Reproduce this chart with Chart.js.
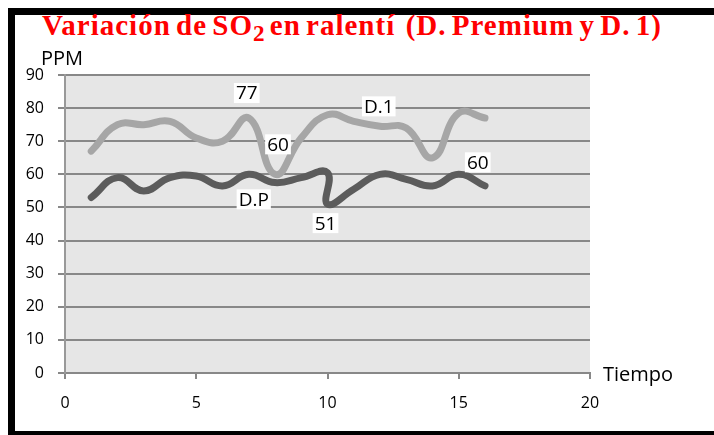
<!DOCTYPE html>
<html>
<head>
<meta charset="utf-8">
<script src="https://cdn.jsdelivr.net/npm/chart.js@4.4.1/dist/chart.umd.min.js"></script>
<style>
  html, body { margin: 0; padding: 0; background: #fff; }
  #wrap { position: relative; width: 714px; height: 435px; overflow: hidden; }
  #frame { position: absolute; left: 8px; top: 8px; width: 760px; height: 416px; border: 7px solid #000; }
  #title {
    position: absolute; left: 42px; top: 11px; white-space: nowrap;
    font-family: "Liberation Serif", serif; font-weight: bold; font-size: 29px;
    line-height: 29px; color: #ff0000; letter-spacing: 1px; word-spacing: -3px;
  }
  #title sub { font-size: 0.8em; vertical-align: -0.25em; line-height: 0; letter-spacing: 0; }
  #chart { position: absolute; left: 0; top: 0; }
</style>
</head>
<body>
<div id="wrap">
  <div id="frame"></div>
  <div id="title">Variación de SO<sub>2</sub> en ralentí&nbsp; (D. Premium y D. 1)</div>
  <canvas id="chart" width="714" height="435"></canvas>
</div>
<script>
// Series D.1
var timeD1 = [1, 2, 3, 4, 5, 6, 7, 8, 9, 10, 11, 12, 13, 14, 15, 16];
var ppmD1 = [67, 75, 75, 76, 71, 70, 77, 60, 71, 78, 76, 74.5, 74, 65, 78.5, 77];

// Series D.P (two readings at t = 10)
var timeDP = [1, 2, 3, 4, 5, 6, 7, 8, 9, 10, 10, 11, 12, 13, 14, 15, 16];
var ppmDP = [53, 59, 55, 59, 59.5, 56.5, 60, 57.5, 59, 60.5, 51, 55.5, 60, 58.5, 56.5, 60, 56.5];

var xTicks = [0, 5, 10, 15, 20];
var yTicks = [0, 10, 20, 30, 40, 50, 60, 70, 80, 90];

var seriesNames = ['D.1', 'D.P'];

// boxed labels: dataset, point index, text (null = the point value), offset
var boxLabels = [
    {ds: 0, i: 6, text: null, dx: -2, dy: -25},
    {ds: 0, i: 7, text: null, dx: 3, dy: -30},
    {ds: 0, i: 10, text: seriesNames[0], dx: 25, dy: -15},
    {ds: 1, i: 6, text: seriesNames[1], dx: 5, dy: 25},
    {ds: 1, i: 10, text: null, dx: -2, dy: 19},
    {ds: 1, i: 15, text: null, dx: 19, dy: -12}
];

function toPoints(xs, ys) {
    return xs.map(function (x, k) { return {x: x, y: ys[k]}; });
}

var labelFont = '19px "Open Sans"';

var plotBackground = {
    id: 'plotBackground',
    beforeDraw: function (chart) {
        var a = chart.chartArea, ctx = chart.ctx;
        ctx.save();
        ctx.fillStyle = '#e6e6e6';
        ctx.fillRect(a.left, a.top, a.right - a.left, a.bottom - a.top);
        ctx.restore();
    }
};

var boxedText = {
    id: 'boxedText',
    afterDatasetsDraw: function (chart) {
        var ctx = chart.ctx;
        ctx.save();
        ctx.font = labelFont;
        ctx.textAlign = 'center';
        ctx.textBaseline = 'middle';
        boxLabels.forEach(function (l) {
            var pt = chart.getDatasetMeta(l.ds).data[l.i];
            var raw = chart.data.datasets[l.ds].data[l.i].y;
            var txt = l.text !== null ? l.text : String(raw);
            var cx = pt.x + l.dx, cy = pt.y + l.dy;
            var w = ctx.measureText(txt).width + 4;
            ctx.fillStyle = '#fff';
            ctx.fillRect(cx - w / 2, cy - 10, w, 20);
            ctx.fillStyle = '#000';
            ctx.fillText(txt, cx, cy + 1);
        });
        // axis names
        var a = chart.chartArea;
        ctx.textAlign = 'left';
        ctx.textBaseline = 'alphabetic';
        ctx.font = '20px "Open Sans"';
        ctx.fillText('PPM', a.left - 24, a.top - 10);
        ctx.fillText('Tiempo', a.right + 13, a.bottom + 8);
        ctx.restore();
    }
};

var ctx = document.getElementById('chart').getContext('2d');
var myChart = new Chart(ctx, {
    type: 'scatter',
    data: {
        datasets: [
            {label: seriesNames[0], data: toPoints(timeD1, ppmD1), borderColor: '#a6a6a6'},
            {label: seriesNames[1], data: toPoints(timeDP, ppmDP), borderColor: '#5c5c5c'}
        ]
    },
    options: {
        responsive: false,
        animation: false,
        events: [],
        layout: {padding: {left: 0, top: 75, right: 124, bottom: 0}},
        elements: {
            point: {radius: 0},
            line: {borderWidth: 7, tension: 0.45, borderCapStyle: 'round', borderJoinStyle: 'round', fill: false}
        },
        datasets: {scatter: {showLine: true}},
        plugins: {legend: {display: false}, tooltip: {enabled: false}},
        scales: {
            x: {
                type: 'linear', min: xTicks[0], max: xTicks[xTicks.length - 1],
                afterBuildTicks: function (s) { s.ticks = xTicks.map(function (v) { return {value: v}; }); },
                afterFit: function (s) { s.height = 62; },
                ticks: {padding: 15, color: '#000', font: {family: 'Open Sans', size: 16}},
                grid: {drawOnChartArea: false, drawTicks: true, tickLength: 6, color: '#888', lineWidth: 2},
                border: {color: '#888', width: 2}
            },
            y: {
                type: 'linear', min: yTicks[0], max: yTicks[yTicks.length - 1],
                afterBuildTicks: function (s) { s.ticks = yTicks.map(function (v) { return {value: v}; }); },
                afterFit: function (s) { s.width = 65; },
                ticks: {padding: 14, color: '#000', font: {family: 'Open Sans', size: 16}},
                grid: {color: '#888', lineWidth: 2, tickLength: 7},
                border: {color: '#999', width: 2}
            }
        }
    },
    plugins: [plotBackground, boxedText]
});
</script>
</body>
</html>
